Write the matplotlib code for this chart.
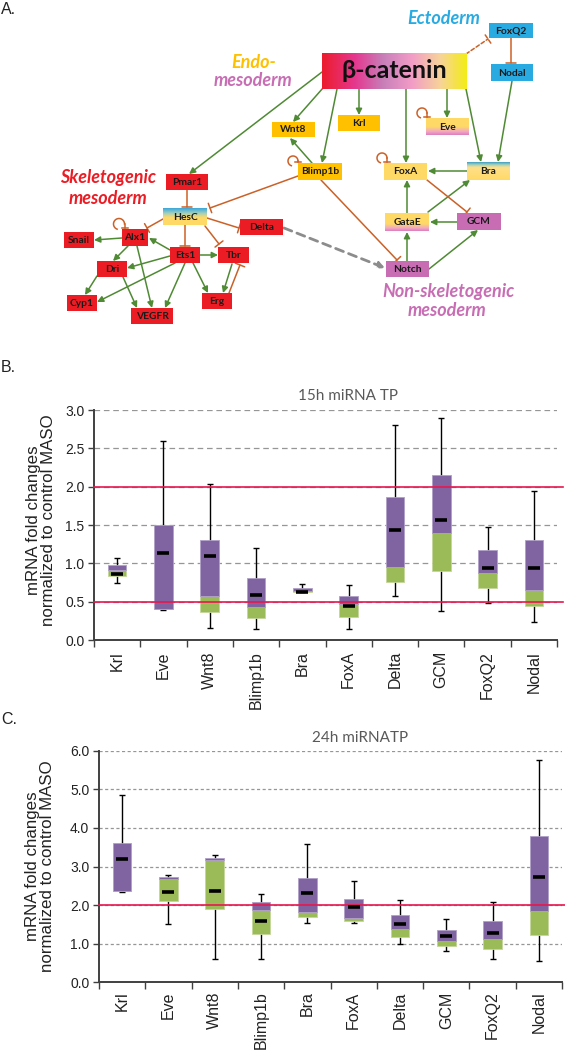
import numpy as np
import matplotlib.pyplot as plt
from matplotlib.patches import Rectangle
from matplotlib.colors import to_rgb
from matplotlib.ticker import FormatStrFormatter, FixedLocator

# ---------------- data ----------------
genes = ["Krl", "Eve", "Wnt8", "Blimp1b", "Bra", "FoxA", "Delta", "GCM", "FoxQ2", "Nodal"]

# B. 15h miRNA TP (min, q1, median, q3, max, mean)
b_min = [0.75, 0.39, 0.16, 0.14, 0.62, 0.15, 0.57, 0.38, 0.48, 0.23]
b_q1 = [0.84, 0.40, 0.37, 0.29, 0.63, 0.30, 0.76, 0.90, 0.68, 0.44]
b_med = [0.91, 0.40, 0.57, 0.43, 0.64, 0.47, 0.95, 1.40, 0.87, 0.65]
b_q3 = [0.98, 1.50, 1.30, 0.81, 0.68, 0.58, 1.87, 2.15, 1.17, 1.30]
b_max = [1.07, 2.60, 2.03, 1.20, 0.73, 0.72, 2.80, 2.89, 1.47, 1.95]
b_mean = [0.86, 1.13, 1.10, 0.59, 0.62, 0.45, 1.44, 1.56, 0.94, 0.94]

# C. 24h miRNATP
c_min = [2.34, 1.50, 0.60, 0.60, 1.54, 1.53, 0.98, 0.82, 0.61, 0.55]
c_q1 = [2.36, 2.10, 1.90, 1.25, 1.68, 1.60, 1.18, 0.95, 0.87, 1.22]
c_med = [2.36, 2.68, 3.16, 1.88, 1.82, 1.67, 1.38, 1.06, 1.12, 1.86]
c_q3 = [3.60, 2.74, 3.23, 2.08, 2.69, 2.15, 1.75, 1.35, 1.60, 3.80]
c_max = [4.86, 2.79, 3.30, 2.30, 3.57, 2.63, 2.13, 1.65, 2.08, 5.76]
c_mean = [3.20, 2.33, 2.36, 1.60, 2.32, 1.96, 1.50, 1.19, 1.28, 2.73]

# A. network nodes and links
node_names = ["Pmar1", "HesC", "Delta", "Alx1", "Snail", "Ets1", "Tbr", "Dri", "Cyp1",
              "VEGFR", "Erg", "Wnt8", "Krl", "Blimp1b", "Eve", "FoxA", "Bra", "GataE",
              "GCM", "Notch", "FoxQ2", "Nodal"]
activations = [("bcat", "Pmar1"), ("bcat", "Wnt8"), ("bcat", "Blimp1b"), ("bcat", "Krl"),
               ("bcat", "FoxA"), ("bcat", "Eve"), ("bcat", "Bra"), ("Nodal", "Bra"),
               ("Blimp1b", "Wnt8"), ("Bra", "FoxA"), ("GataE", "FoxA"), ("GataE", "Bra"),
               ("GCM", "GataE"), ("Notch", "GataE"), ("Notch", "GCM"), ("Alx1", "Snail"),
               ("Ets1", "Alx1"), ("Alx1", "Dri"), ("Alx1", "VEGFR"), ("Ets1", "Dri"),
               ("Ets1", "Tbr"), ("Ets1", "Cyp1"), ("Ets1", "VEGFR"), ("Ets1", "Erg"),
               ("Tbr", "Erg"), ("Dri", "Cyp1"), ("Dri", "VEGFR")]
repressions = [("FoxQ2", "Nodal"), ("Pmar1", "HesC"), ("HesC", "Alx1"), ("HesC", "Ets1"),
               ("HesC", "Delta"), ("HesC", "Tbr"), ("Erg", "Tbr"), ("Blimp1b", "HesC"),
               ("Blimp1b", "Notch"), ("FoxA", "GCM")]
self_loops = ["Alx1", "Blimp1b", "FoxA", "Eve"]

# ---------------- layout (pixels) ----------------
W, H = 565, 1050
box = {
    "bcat": (322, 53, 467, 89), "FoxQ2": (489, 23, 533, 38), "Nodal": (491, 64, 533, 81),
    "Krl": (338, 115, 380, 131), "Wnt8": (272, 122, 315, 137), "Eve": (426, 118, 469, 135),
    "Blimp1b": (298, 163, 342, 180), "FoxA": (384, 163, 427, 180), "Bra": (467, 162, 510, 180),
    "GataE": (385, 213, 429, 231), "GCM": (457, 213, 501, 230), "Notch": (386, 261, 429, 277),
    "Pmar1": (166, 174, 208, 190), "HesC": (163, 208, 207, 225), "Delta": (240, 219, 283, 235),
    "Alx1": (122, 229, 148, 246), "Snail": (64, 232, 94, 248), "Ets1": (170, 247, 200, 263),
    "Tbr": (218, 247, 249, 263), "Dri": (97, 261, 127, 277), "Cyp1": (67, 295, 97, 311),
    "VEGFR": (131, 308, 173, 324), "Erg": (202, 293, 232, 309),
}
link_pts = {
    ("bcat", "Pmar1"): ((322, 72), (189, 174)), ("bcat", "Wnt8"): ((323, 88), (293, 122)),
    ("bcat", "Blimp1b"): ((337, 89), (322, 163)), ("bcat", "Krl"): ((359, 89), (359, 115)),
    ("bcat", "FoxA"): ((406, 89), (406, 163)), ("bcat", "Eve"): ((447, 89), (447, 118)),
    ("bcat", "Bra"): ((466, 89), (481, 162)), ("Nodal", "Bra"): ((512, 81), (498, 162)),
    ("Blimp1b", "Wnt8"): ((312, 163), (290, 138)), ("Bra", "FoxA"): ((467, 171), (428, 171)),
    ("GataE", "FoxA"): ((407, 213), (407, 180)), ("GataE", "Bra"): ((428, 212), (470, 180)),
    ("GCM", "GataE"): ((457, 222), (430, 222)), ("Notch", "GataE"): ((407, 261), (407, 232)),
    ("Notch", "GCM"): ((429, 269), (478, 230)), ("Alx1", "Snail"): ((122, 238), (94, 240)),
    ("Ets1", "Alx1"): ((170, 250), (149, 238)), ("Alx1", "Dri"): ((128, 246), (113, 261)),
    ("Alx1", "VEGFR"): ((137, 246), (152, 308)), ("Ets1", "Dri"): ((170, 256), (127, 268)),
    ("Ets1", "Tbr"): ((200, 255), (218, 255)), ("Ets1", "Cyp1"): ((175, 263), (97, 302)),
    ("Ets1", "VEGFR"): ((185, 263), (165, 308)), ("Ets1", "Erg"): ((193, 263), (208, 293)),
    ("Tbr", "Erg"): ((232, 264), (223, 293)), ("Dri", "Cyp1"): ((97, 276), (85, 295)),
    ("Dri", "VEGFR"): ((123, 277), (137, 308)),
    ("FoxQ2", "Nodal"): ((511, 38), (511, 63)), ("Pmar1", "HesC"): ((187, 190), (187, 207)),
    ("HesC", "Alx1"): ((163, 219), (147, 228)), ("HesC", "Ets1"): ((185, 225), (185, 246)),
    ("HesC", "Delta"): ((207, 218), (239, 228)), ("HesC", "Tbr"): ((205, 226), (219, 244)),
    ("Erg", "Tbr"): ((229, 293), (240, 265)), ("Blimp1b", "HesC"): ((298, 176), (210, 208)),
    ("Blimp1b", "Notch"): ((321, 180), (397, 260)), ("FoxA", "GCM"): ((427, 180), (467, 212)),
}
loop_pos = {"Alx1": (119, 224, 5.5), "Blimp1b": (293, 161, 5), "FoxA": (382, 158, 5),
            "Eve": (422, 113, 5)}

RED = "#EC1C24"
ORG = "#FFC000"
LYEL = "#FFD966"
PINK = "#C86DB4"
BLUE = "#29ABE2"
node_fill = {n: RED for n in ["Pmar1", "Delta", "Alx1", "Snail", "Ets1", "Tbr", "Dri",
                              "Cyp1", "VEGFR", "Erg"]}
node_fill.update({"Wnt8": ORG, "Krl": ORG, "Blimp1b": ORG, "FoxA": LYEL, "GCM": PINK,
                  "Notch": PINK, "FoxQ2": BLUE, "Nodal": BLUE})
node_grad = {
    "HesC": (["#3BA6DA", "#9FD0C0", "#FFD966", "#FFD966"], [0, 0.3, 0.55, 1]),
    "Eve": (["#FFD966", "#FFD966", "#F2A7C6", "#DE7DBE"], [0, 0.5, 0.8, 1]),
    "GataE": (["#FFD966", "#FFD966", "#F2A7C6", "#DE7DBE"], [0, 0.6, 0.85, 1]),
    "Bra": (["#3FA0C6", "#A9D3B8", "#FFE08A", "#FFD966"], [0, 0.15, 0.3, 1]),
}
GREEN_LINK = "#4F8A34"
ORANGE_LINK = "#CB6127"

fig = plt.figure(figsize=(W / 100, H / 100), dpi=100)
ax0 = fig.add_axes([0, 0, 1, 1])
ax0.axis("off")


def fill_box(b, colors, stops, horizontal=False):
    x0, y0, x1, y1 = b
    t = np.linspace(0, 1, 64)
    rgb = np.array([to_rgb(c) for c in colors])
    img = np.stack([np.interp(t, stops, rgb[:, k]) for k in range(3)], axis=-1)
    img = img[None, :, :] if horizontal else img[:, None, :]
    ax0.imshow(img, extent=(x0, x1, y1, y0), aspect="auto", zorder=3,
               interpolation="bilinear")


def link(p0, p1, color, style, ls="-", lw=1.1):
    ax0.annotate("", xy=p1, xytext=p0,
                 arrowprops=dict(arrowstyle=style, color=color, lw=lw, ls=ls,
                                 shrinkA=0, shrinkB=0, mutation_scale=9), zorder=2)


# links
for a in activations:
    link(*link_pts[a], GREEN_LINK, "-|>")
for r in repressions:
    link(*link_pts[r], ORANGE_LINK, "-[, widthB=0.4, lengthB=0")
link((466, 54), (488, 39), ORANGE_LINK, "-[, widthB=0.4, lengthB=0", ls=(0, (2.5, 1.5)))
link((284, 228), (385, 268), "#8C8C8C", "-|>", ls=(0, (3, 2)), lw=2)

for n in self_loops:
    cx, cy, r = loop_pos[n]
    t = np.radians(np.linspace(110, 360, 40))
    ax0.plot(cx + r * np.cos(t), cy + r * np.sin(t), color=ORANGE_LINK, lw=1.1, zorder=2)
    top = box[n][1]
    ax0.plot([cx + r, cx + r], [cy, top - 1], color=ORANGE_LINK, lw=1.1, zorder=2)
    ax0.plot([cx + r - 3, cx + r + 3], [top - 1, top - 1], color=ORANGE_LINK, lw=1.1, zorder=2)

# nodes
for n in node_names:
    x0, y0, x1, y1 = box[n]
    if n in node_grad:
        fill_box(box[n], *node_grad[n])
    else:
        ax0.add_patch(Rectangle((x0, y0), x1 - x0, y1 - y0, fc=node_fill[n], ec="none",
                                zorder=3))
    ax0.text((x0 + x1) / 2, (y0 + y1) / 2 + 0.5, n, ha="center", va="center", fontsize=7.4,
             fontweight="bold", family="Lato", color="#1a1a1a", zorder=4)

fill_box(box["bcat"], ["#EC1C2E", "#E6368E", "#C77FB9", "#F29CC7", "#F7D39A", "#F4EC1A"],
         [0, 0.22, 0.42, 0.62, 0.82, 1], horizontal=True)
ax0.text(394.5, 71, "β-catenin", ha="center", va="center", fontsize=18, fontweight="bold",
         family="Lato", color="#111111", zorder=4)

lab = dict(ha="center", va="center", fontsize=13, fontweight="bold", style="italic",
           family="Lato")
ax0.text(444, 18, "Ectoderm", color=BLUE, **lab)
ax0.text(254, 62, "Endo-", color=ORG, **lab)
ax0.text(253, 80, "mesoderm", color=PINK, **lab)
ax0.text(108, 177, "Skeletogenic", color=RED, **lab)
ax0.text(108, 199, "mesoderm", color=RED, **lab)
ax0.text(448, 292, "Non-skeletogenic", color=PINK, **lab)
ax0.text(447, 310, "mesoderm", color=PINK, **lab)

# panel letters, axis labels, titles
pl = dict(ha="left", va="top", fontsize=11.5, family="Liberation Sans", color="#222222")
ax0.text(1, 2, "A.", **pl)
ax0.text(1, 360, "B.", **pl)
ax0.text(1, 712, "C.", **pl)
ylab = "mRNA fold changes\nnormalized to control MASO"
yl = dict(rotation=90, ha="center", va="center", fontsize=12.2, linespacing=1.05,
          family="Liberation Sans", color="#222222")
ax0.text(41, 520, ylab, **yl)
ax0.text(40, 866, ylab, **yl)
tl = dict(ha="left", va="center", fontsize=11, family="Lato", color="#595959")
ax0.text(298, 396, "15h miRNA TP", **tl)
ax0.text(312, 738, "24h miRNATP", **tl)

ax0.set_xlim(0, W)
ax0.set_ylim(H, 0)

PURPLE = "#8064A2"
GREEN = "#9BBB59"
REDLINE = "#E8174F"


def box_panel(ax, lo, q1, med, q3, hi, mean, ymax, step, red_lines, dash, extend, pad):
    x = np.arange(len(genes))
    ax.set_facecolor("none")
    ax.set_xlim(-0.5, len(genes) - 0.5)
    ax.set_ylim(0, ymax)
    for yv in np.arange(step, ymax + step / 2, step):
        ax.axhline(yv, color="#969696", lw=0.9, ls=(0, dash), zorder=0)
    ax.vlines(x, lo, hi, color="black", lw=1, zorder=2)
    ax.plot(x, hi, ls="none", marker="_", ms=4, mew=1, color="black", zorder=2)
    ax.plot(x, lo, ls="none", marker="_", ms=4, mew=1, color="black", zorder=2)
    ax.bar(x, np.subtract(med, q1), bottom=q1, width=0.4, color=GREEN, edgecolor="#C4D79B",
           lw=0.6, zorder=3)
    ax.bar(x, np.subtract(q3, med), bottom=med, width=0.4, color=PURPLE, edgecolor="#B1A0C7",
           lw=0.6, zorder=3)
    for yv in red_lines:
        ax.axhline(yv, xmin=0, xmax=extend, color=REDLINE, lw=1.2, zorder=4, clip_on=False)
    ax.plot(x, mean, ls="none", marker="_", ms=8, mew=2.6, color="black", zorder=5)

    ax.set_yticks(np.arange(0, ymax + step / 2, step))
    ax.yaxis.set_major_formatter(FormatStrFormatter("%.1f"))
    ax.set_xticks(x)
    ax.set_xticklabels(genes, rotation=90, fontsize=11.5, family="Liberation Sans",
                       color="#222222")
    ax.xaxis.set_minor_locator(FixedLocator(np.arange(-0.5, len(genes), 1.0)))
    ax.tick_params(axis="x", which="major", length=0, pad=pad)
    ax.tick_params(axis="x", which="minor", length=5, width=1, color="#404040")
    ax.tick_params(axis="y", length=4, width=1, color="#404040", labelsize=10, pad=3)
    for lb in ax.get_yticklabels():
        lb.set_family("Liberation Sans")
        lb.set_color("#222222")
    for s in ["top", "right"]:
        ax.spines[s].set_visible(False)
    for s in ["left", "bottom"]:
        ax.spines[s].set_color("#404040")
        ax.spines[s].set_linewidth(1.4)


axB = fig.add_axes([94 / W, 1 - 640 / H, 463 / W, 230 / H])
box_panel(axB, b_min, b_q1, b_med, b_q3, b_max, b_mean, 3.0, 0.5, [2.0, 0.5], (4.5, 3),
          1.013, 8)

axC = fig.add_axes([99 / W, 1 - 982.3 / H, 463 / W, 231.6 / H])
box_panel(axC, c_min, c_q1, c_med, c_q3, c_max, c_mean, 6.0, 1.0, [2.0], (2.5, 2),
          1.007, 6.5)

fig.savefig("out.png", dpi=100)
